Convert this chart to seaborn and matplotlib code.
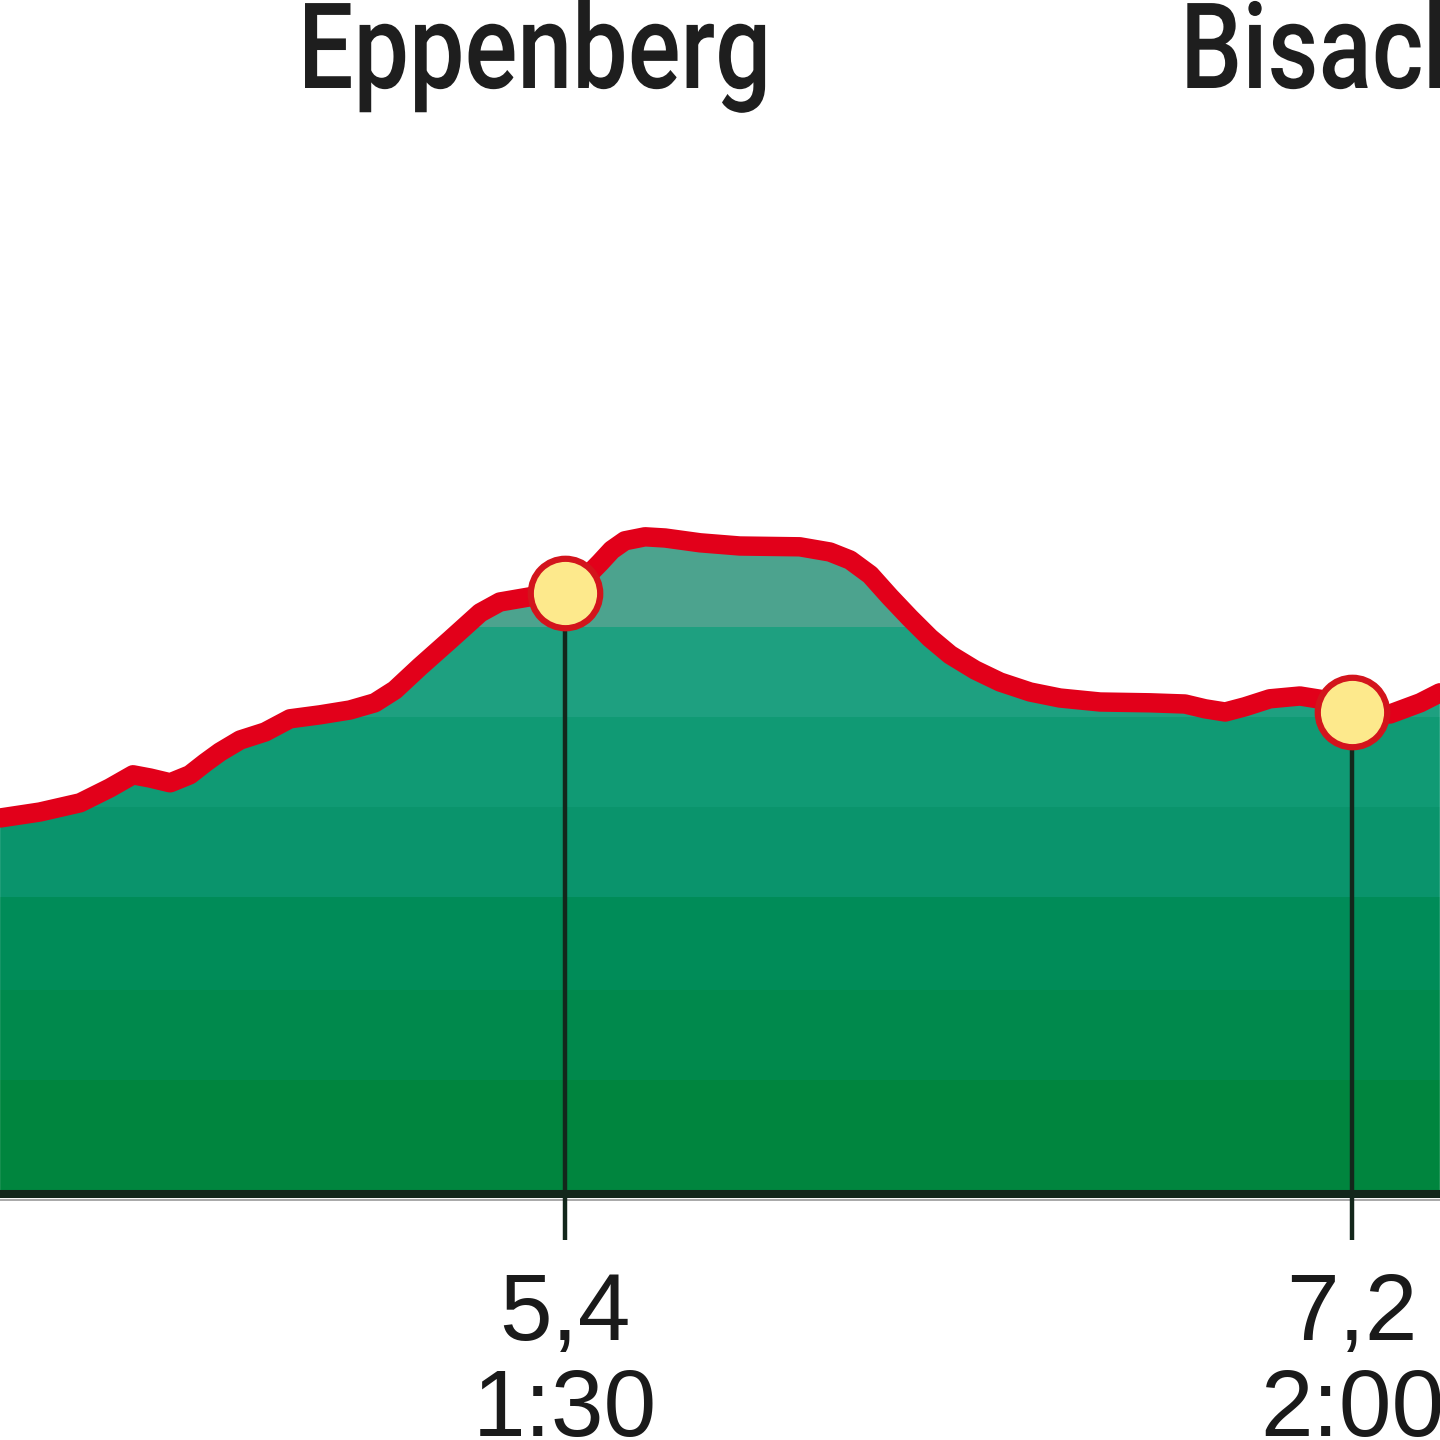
import numpy as np
import matplotlib
matplotlib.use("Agg")
import matplotlib.pyplot as plt
from matplotlib.patheffects import AbstractPathEffect
from matplotlib.transforms import Affine2D
import seaborn as sns

# ---- data -------------------------------------------------------------
distance_km = [4.108, 4.199, 4.291, 4.359, 4.412, 4.451, 4.497, 4.542, 4.577, 4.611,
               4.657, 4.714, 4.771, 4.840, 4.908, 4.965, 5.011, 5.068, 5.137, 5.206,
               5.251, 5.320, 5.400, 5.446, 5.480, 5.507, 5.537, 5.583, 5.629, 5.709,
               5.800, 5.937, 6.006, 6.052, 6.098, 6.143, 6.189, 6.235, 6.281, 6.338,
               6.395, 6.464, 6.532, 6.624, 6.738, 6.818, 6.864, 6.910, 6.955, 7.012,
               7.081, 7.138, 7.200, 7.287, 7.356, 7.401]
elevation_m = [494.0, 495.5, 497.8, 501.5, 504.8, 504.0, 502.8, 504.8, 507.8, 510.5,
               513.5, 515.5, 518.8, 519.8, 521.0, 522.8, 526.0, 531.8, 538.5, 545.3,
               548.0, 549.3, 550.3, 554.0, 557.8, 561.0, 563.3, 564.3, 564.0, 562.8,
               562.0, 561.8, 560.5, 558.5, 554.8, 549.3, 544.0, 539.0, 534.8, 531.0,
               528.0, 525.5, 524.0, 523.0, 522.8, 522.5, 521.3, 520.5, 521.8, 523.8,
               524.5, 523.5, 520.5, 520.0, 522.8, 525.3]

waypoint_km = [5.4, 7.2]
waypoint_elev = [550.3, 520.5]
waypoint_dist_labels = ["5,4", "7,2"]
waypoint_time_labels = ["1:30", "2:00"]

place_names = ["Eppenberg", "Bisach"]
place_name_km = [4.789, 6.807]

base_elev = 400.0

# ---- style --------------------------------------------------------------
sns.set_theme(style="white")
plt.rcParams["font.family"] = ["Liberation Sans", "DejaVu Sans"]

band_edges = [base_elev, 428.5, 451.0, 474.25, 496.75, 519.25, 541.75, 600.0]
band_colors = ["#00853e", "#00894c", "#008c58", "#0a946c", "#109a74", "#1ea080", "#4ca38e"]


class HorizontalSqueeze(AbstractPathEffect):
    """Draw text glyphs narrower (condensed look) around a fixed display x."""

    def __init__(self, sx, x0):
        super().__init__()
        self.sx = sx
        self.x0 = x0

    def draw_path(self, renderer, gc, tpath, affine, rgbFace=None):
        t = affine + Affine2D().translate(-self.x0, 0).scale(self.sx, 1).translate(self.x0, 0)
        renderer.draw_path(gc, tpath, t, rgbFace)


fig = plt.figure(figsize=(14.4, 14.4), dpi=100)
ax = fig.add_axes([0, 0, 1, 1])
xmin, xmax = 4.1078, 7.4013
ymin, ymax = 338.5, 698.5

# banded gradient fill under the profile
res = 0.25
rows = np.arange(band_edges[0], band_edges[-1], res)
rgb = np.zeros((len(rows), 1, 3))
for lo, hi, c in zip(band_edges[:-1], band_edges[1:], band_colors):
    m = (rows >= lo) & (rows < hi)
    rgb[m, 0, :] = matplotlib.colors.to_rgb(c)
poly = ax.fill_between(distance_km, elevation_m, base_elev, color="none", lw=0)
img = ax.imshow(rgb, extent=[xmin, xmax, band_edges[0], band_edges[-1]],
                origin="lower", aspect="auto", interpolation="nearest", zorder=1)
img.set_clip_path(poly.get_paths()[0], transform=ax.transData)

# baseline
ax.axhline(base_elev, color="#13271b", lw=5.8, zorder=3)
ax.axhline(base_elev - 1.4, color="#9a9a9a", lw=1.2, zorder=2)

# drop lines
ax.vlines(waypoint_km, 388.5, waypoint_elev, color="#13271b", lw=3.2, zorder=4)

# profile line
sns.lineplot(x=distance_km, y=elevation_m, ax=ax, color="#e2001a", lw=14,
             sort=False, zorder=5, solid_joinstyle="round", solid_capstyle="round")

# waypoint markers
sns.scatterplot(x=waypoint_km, y=waypoint_elev, ax=ax, s=2500, color="#fde98c",
                edgecolor="#d3141c", linewidth=4.5, zorder=6, legend=False)

ax.set_xlim(xmin, xmax)
ax.set_ylim(ymin, ymax)
ax.set_axis_off()

# labels
for km, d, t in zip(waypoint_km, waypoint_dist_labels, waypoint_time_labels):
    ax.text(km, 363.5, d, ha="center", va="baseline", fontsize=68, color="#1a1a1a",
            family=["Liberation Sans", "DejaVu Sans"])
    ax.text(km, 339.5, t, ha="center", va="baseline", fontsize=68, color="#1a1a1a",
            family=["Liberation Sans", "DejaVu Sans"])

for name, km in zip(place_names, place_name_km):
    x0 = ax.transData.transform((km, 676.5))[0]
    ax.text(km, 676.5, name, ha="left", va="baseline", fontsize=86, color="#1e1e1e",
            fontweight="medium", family=["Roboto", "Liberation Sans", "DejaVu Sans"],
            path_effects=[HorizontalSqueeze(0.825, x0)])

fig.savefig("out.png", dpi=100, facecolor="white")
